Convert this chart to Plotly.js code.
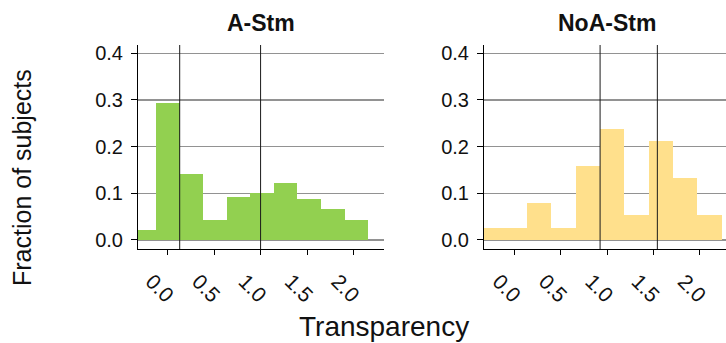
<!DOCTYPE html>
<html>
<head>
<meta charset="utf-8">
<script src="https://cdn.plot.ly/plotly-3.0.1.min.js"></script>
<style>
  html, body { margin: 0; padding: 0; background: #ffffff; }
  #chart { width: 726px; height: 343px; }
</style>
</head>
<body>
<div id="chart"></div>
<script>
// Histogram bins (bin centres) and fraction of subjects per bin
const binsAStm = [-0.254, 0, 0.254, 0.508, 0.762, 1.016, 1.270, 1.524, 1.778, 2.032];
const fracAStm = [0.021, 0.294, 0.141, 0.042, 0.093, 0.101, 0.121, 0.088, 0.067, 0.042];

const binsNoAStm = [-0.263, 0, 0.263, 0.526, 0.789, 1.052, 1.315, 1.578, 1.841, 2.104];
const fracNoAStm = [0.026, 0.026, 0.079, 0.026, 0.158, 0.237, 0.053, 0.211, 0.132, 0.053];

// Reference lines drawn over each panel
const linesAStm = [0.129, 1.0];
const linesNoAStm = [0.922, 1.54];

const panelTitles = ['A-Stm', 'NoA-Stm'];
const xTickVals = [0, 0.5, 1.0, 1.5, 2.0];
const xTickText = ['0.0', '0.5', '1.0', '1.5', '2.0'];
const yTickVals = [0, 0.1, 0.2, 0.3, 0.4];
const yTickText = ['0.0', '0.1', '0.2', '0.3', '0.4'];
const xTitle = 'Transparency';
const yTitle = 'Fraction of subjects';

const W = 726, H = 343;
const FONT = 'Liberation Sans, Arial, sans-serif';
const INK = '#111111';

const traces = [
  {
    type: 'bar', x: binsAStm, y: fracAStm,
    width: binsAStm[1] - binsAStm[0],
    marker: { color: '#92D050', line: { width: 0 } },
    xaxis: 'x', yaxis: 'y', hoverinfo: 'x+y', showlegend: false
  },
  {
    type: 'bar', x: binsNoAStm, y: fracNoAStm,
    width: binsNoAStm[1] - binsNoAStm[0],
    marker: { color: '#FFE08C', line: { width: 0 } },
    xaxis: 'x2', yaxis: 'y2', hoverinfo: 'x+y', showlegend: false
  }
];

const yDomain = [(H - 249) / H, (H - 45) / H];

function xAxis(domain, range, anchor) {
  return {
    domain: domain, range: range, anchor: anchor,
    showgrid: false, zeroline: false,
    showline: true, linecolor: '#000000', linewidth: 1,
    ticks: 'outside', ticklen: 5, tickwidth: 1, tickcolor: '#000000',
    tickmode: 'array', tickvals: xTickVals, ticktext: xTickText,
    tickangle: 45, ticklabelshift: -16, ticklabelstandoff: 6,
    tickfont: { family: FONT, size: 21, color: INK }
  };
}

function yAxis(anchor) {
  return {
    domain: yDomain, range: [-0.0193, 0.4176], anchor: anchor,
    showgrid: true, gridcolor: '#929292', gridwidth: 1.2,
    zeroline: false,
    showline: true, linecolor: '#000000', linewidth: 1,
    ticks: 'outside', ticklen: 6, tickwidth: 1, tickcolor: '#000000',
    tickmode: 'array', tickvals: yTickVals, ticktext: yTickText,
    ticklabelstandoff: 4,
    tickfont: { family: FONT, size: 20, color: INK }
  };
}

// vertical reference lines spanning each panel's full height
const shapes = [];
linesAStm.forEach(v => shapes.push({
  type: 'line', xref: 'x', yref: 'y domain', x0: v, x1: v, y0: 0, y1: 1,
  line: { color: '#1a1a1a', width: 1 }, layer: 'above'
}));
linesNoAStm.forEach(v => shapes.push({
  type: 'line', xref: 'x2', yref: 'y2 domain', x0: v, x1: v, y0: 0, y1: 1,
  line: { color: '#1a1a1a', width: 1 }, layer: 'above'
}));

const xDomA = [138 / W, 384 / W];
const xDomB = [484 / W, 1];

const annotations = [
  {
    text: '<b>' + panelTitles[0] + '</b>', xref: 'paper', yref: 'paper',
    x: (xDomA[0] + xDomA[1]) / 2, y: 1 - 23 / H, xanchor: 'center', yanchor: 'middle',
    showarrow: false, font: { family: FONT, size: 23, color: INK }
  },
  {
    text: '<b>' + panelTitles[1] + '</b>', xref: 'paper', yref: 'paper',
    x: 607 / W, y: 1 - 23 / H, xanchor: 'center', yanchor: 'middle',
    showarrow: false, font: { family: FONT, size: 23, color: INK }
  },
  {
    text: xTitle, xref: 'paper', yref: 'paper',
    x: 384 / W, y: 1 - 326 / H, xanchor: 'center', yanchor: 'middle',
    showarrow: false, font: { family: FONT, size: 28, color: INK }
  },
  {
    text: yTitle, xref: 'paper', yref: 'paper', textangle: -90,
    x: 22 / W, y: 1 - 178 / H, xanchor: 'center', yanchor: 'middle',
    showarrow: false, font: { family: FONT, size: 25, color: INK }
  }
];

const layout = {
  width: W, height: H,
  margin: { l: 0, r: 0, t: 0, b: 0 },
  paper_bgcolor: '#ffffff', plot_bgcolor: '#ffffff',
  bargap: 0, barmode: 'overlay',
  xaxis: xAxis(xDomA, [-0.320, 2.329], 'y'),
  yaxis: yAxis('x'),
  xaxis2: xAxis(xDomB, [-0.331, 2.281], 'y2'),
  yaxis2: yAxis('x2'),
  shapes: shapes,
  annotations: annotations,
  font: { family: FONT, color: INK }
};

Plotly.newPlot('chart', traces, layout, { displayModeBar: false, staticPlot: true });
</script>
</body>
</html>
